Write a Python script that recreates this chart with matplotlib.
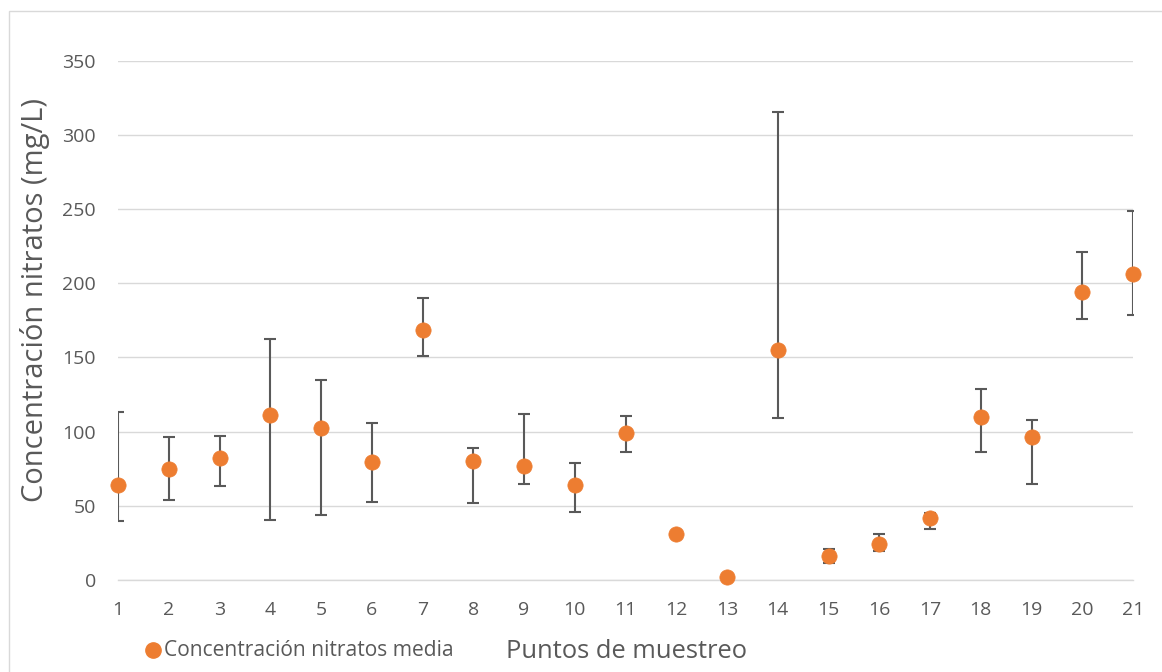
import matplotlib
matplotlib.use("Agg")
import matplotlib.pyplot as plt
from matplotlib.patches import Rectangle
from matplotlib.lines import Line2D
import numpy as np

puntos = list(range(1, 22))
media = [64.0, 74.6, 81.8, 110.8, 102.5, 79.3, 168.2, 80.2, 76.8, 63.8, 99.1,
         30.9, 2.0, 154.7, 16.0, 24.3, 41.5, 109.9, 96.0, 194.2, 206.3]
superior = [113.3, 96.2, 97.3, 162.4, 134.7, 105.4, 189.9, 88.8, 111.8, 78.9, 110.4,
            31.0, 2.5, 315.8, 20.5, 30.7, 45.3, 128.9, 107.9, 221.4, 249.1]
inferior = [39.7, 53.9, 63.1, 40.5, 43.9, 52.5, 151.0, 52.0, 64.7, 45.5, 86.1,
            30.9, 1.5, 108.8, 11.5, 19.4, 34.5, 86.5, 64.9, 175.7, 178.6]
yticks = [0, 50, 100, 150, 200, 250, 300, 350]

plt.rcParams['font.family'] = ['Open Sans', 'DejaVu Sans']
W, H = 1162, 672
fig = plt.figure(figsize=(W / 100, H / 100), dpi=100)
ax = fig.add_axes([118 / W, 1 - 579.7 / H, (1133 - 118) / W, (579.7 - 61) / H])

m = np.array(media)
err = [m - np.array(inferior), np.array(superior) - m]
ax.errorbar(puntos, media, yerr=err, fmt='none', ecolor='#595959',
            elinewidth=1.5, capsize=4.5, capthick=1.5, zorder=3)
ax.plot(puntos, media, 'o', color='#ED7D31', markersize=11, markeredgewidth=0.5,
        markeredgecolor='#ED7D31', zorder=4, clip_on=False,
        label='Concentración nitratos media')

ax.set_xlim(1, 21)
ax.set_ylim(0, 350)
ax.set_yticks(yticks)
ax.set_xticks(puntos)
ax.grid(axis='y', color='#D9D9D9', linewidth=1.0)
ax.set_axisbelow(True)
for s in ['top', 'right', 'left']:
    ax.spines[s].set_visible(False)
ax.spines['bottom'].set_color('#D9D9D9')
ax.spines['bottom'].set_linewidth(1.0)
ax.tick_params(length=0, labelsize=14, colors='#595959')
ax.tick_params(axis='x', pad=15)
ax.tick_params(axis='y', pad=16)

fig.text(35 / W, 1 - 300 / H, 'Concentración nitratos (mg/L)', fontsize=21,
         color='#595959', rotation=90, ha='center', va='center')
fig.text(626 / W, 1 - 652 / H, 'Puntos de muestreo', fontsize=18.4, color='#595959',
         ha='center', va='center')

# legend (manual placement)
fig.add_artist(Line2D([153 / W], [1 - 650 / H], marker='o', color='#ED7D31',
                      markersize=11, linestyle='none', transform=fig.transFigure))
fig.text(164 / W, 1 - 650 / H, 'Concentración nitratos media', fontsize=15.1,
         color='#595959', ha='left', va='center')

fig.patches.append(Rectangle((9 / W, -0.1), 1.2, 1 - 11 / H + 0.1,
                             transform=fig.transFigure, fill=False,
                             edgecolor='#D9D9D9', linewidth=1.0))

fig.savefig('out.png', dpi=100)
